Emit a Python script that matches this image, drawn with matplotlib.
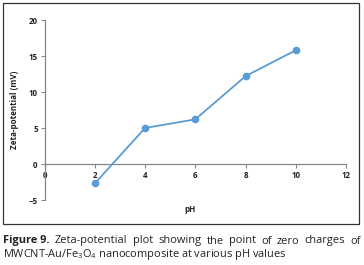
import matplotlib
matplotlib.use('Agg')
import matplotlib.pyplot as plt
from matplotlib.patches import Rectangle

ph = [2, 4, 6, 8, 10]
zeta = [-2.7, 5.0, 6.2, 12.2, 15.8]
xticks = [0, 2, 4, 6, 8, 10, 12]
yticks = [-5, 0, 5, 10, 15, 20]

LINE = '#5b9bd5'
AXIS = '#868686'
TXT = '#222222'

plt.rcParams['font.family'] = ['Open Sans', 'DejaVu Sans']
plt.rcParams['mathtext.fontset'] = 'custom'
plt.rcParams['mathtext.rm'] = 'Open Sans'

W, H = 364, 265
fig = plt.figure(figsize=(W / 100, H / 100), dpi=100)
ax = fig.add_axes([44.6 / W, 1 - 200 / H, (346 - 44.6) / W, 180 / H])

ax.plot(ph, zeta, color=LINE, lw=1.3, marker='o', ms=4.5, zorder=3)

ax.set_xlim(0, 12)
ax.set_ylim(-5, 20)
ax.set_xticks(xticks)
ax.set_yticks(yticks)

for s in ['top', 'right']:
    ax.spines[s].set_visible(False)
ax.spines['bottom'].set_position(('data', 0))
for s in ['left', 'bottom']:
    ax.spines[s].set_color(AXIS)
    ax.spines[s].set_linewidth(0.9)
ax.tick_params(colors=AXIS, length=3, width=0.8, labelsize=5.7, pad=2)
for lab in ax.get_xticklabels() + ax.get_yticklabels():
    lab.set_color(TXT)
    lab.set_fontweight('bold')

fig.text(15 / W, 1 - 110 / H, 'Zeta-potential (mV)', rotation=90, fontsize=5.8,
         fontweight='bold', ha='center', va='center', color=TXT)
fig.text(190 / W, 1 - 209 / H, 'pH', fontsize=5.8, fontweight='bold',
         ha='center', va='center', color=TXT)

# outer chart box
fig.patches.append(Rectangle((3 / W, 1 - 224 / H), 356 / W, 221 / H,
                             transform=fig.transFigure, fill=False,
                             edgecolor='#333333', lw=0.9))

# caption, first line justified
CAP = 7.9
words = [('Figure 9.', 'bold'), ('Zeta-potential', 'normal'),
         ('plot', 'normal'), ('showing', 'normal'), ('the', 'normal'),
         ('point', 'normal'), ('of', 'normal'), ('zero', 'normal'),
         ('charges', 'normal'), ('of', 'normal')]
arts = [fig.text(0, 1 - 241 / H, w, fontsize=CAP, fontweight=fw,
                 va='center', color=TXT) for w, fw in words]
r = fig.canvas.get_renderer()
widths = [a.get_window_extent(r).width for a in arts]
x0, x1 = 3, 361
gap = (x1 - x0 - sum(widths)) / (len(words) - 1)
x = x0
for a, wd in zip(arts, widths):
    a.set_x(x / W)
    x += wd + gap

fig.text(3 / W, 1 - 254 / H,
         r'MWCNT-Au/Fe$_3$O$_4$ nanocomposite at various pH values',
         fontsize=CAP, va='center', color=TXT)

fig.savefig('out.png', dpi=100)
